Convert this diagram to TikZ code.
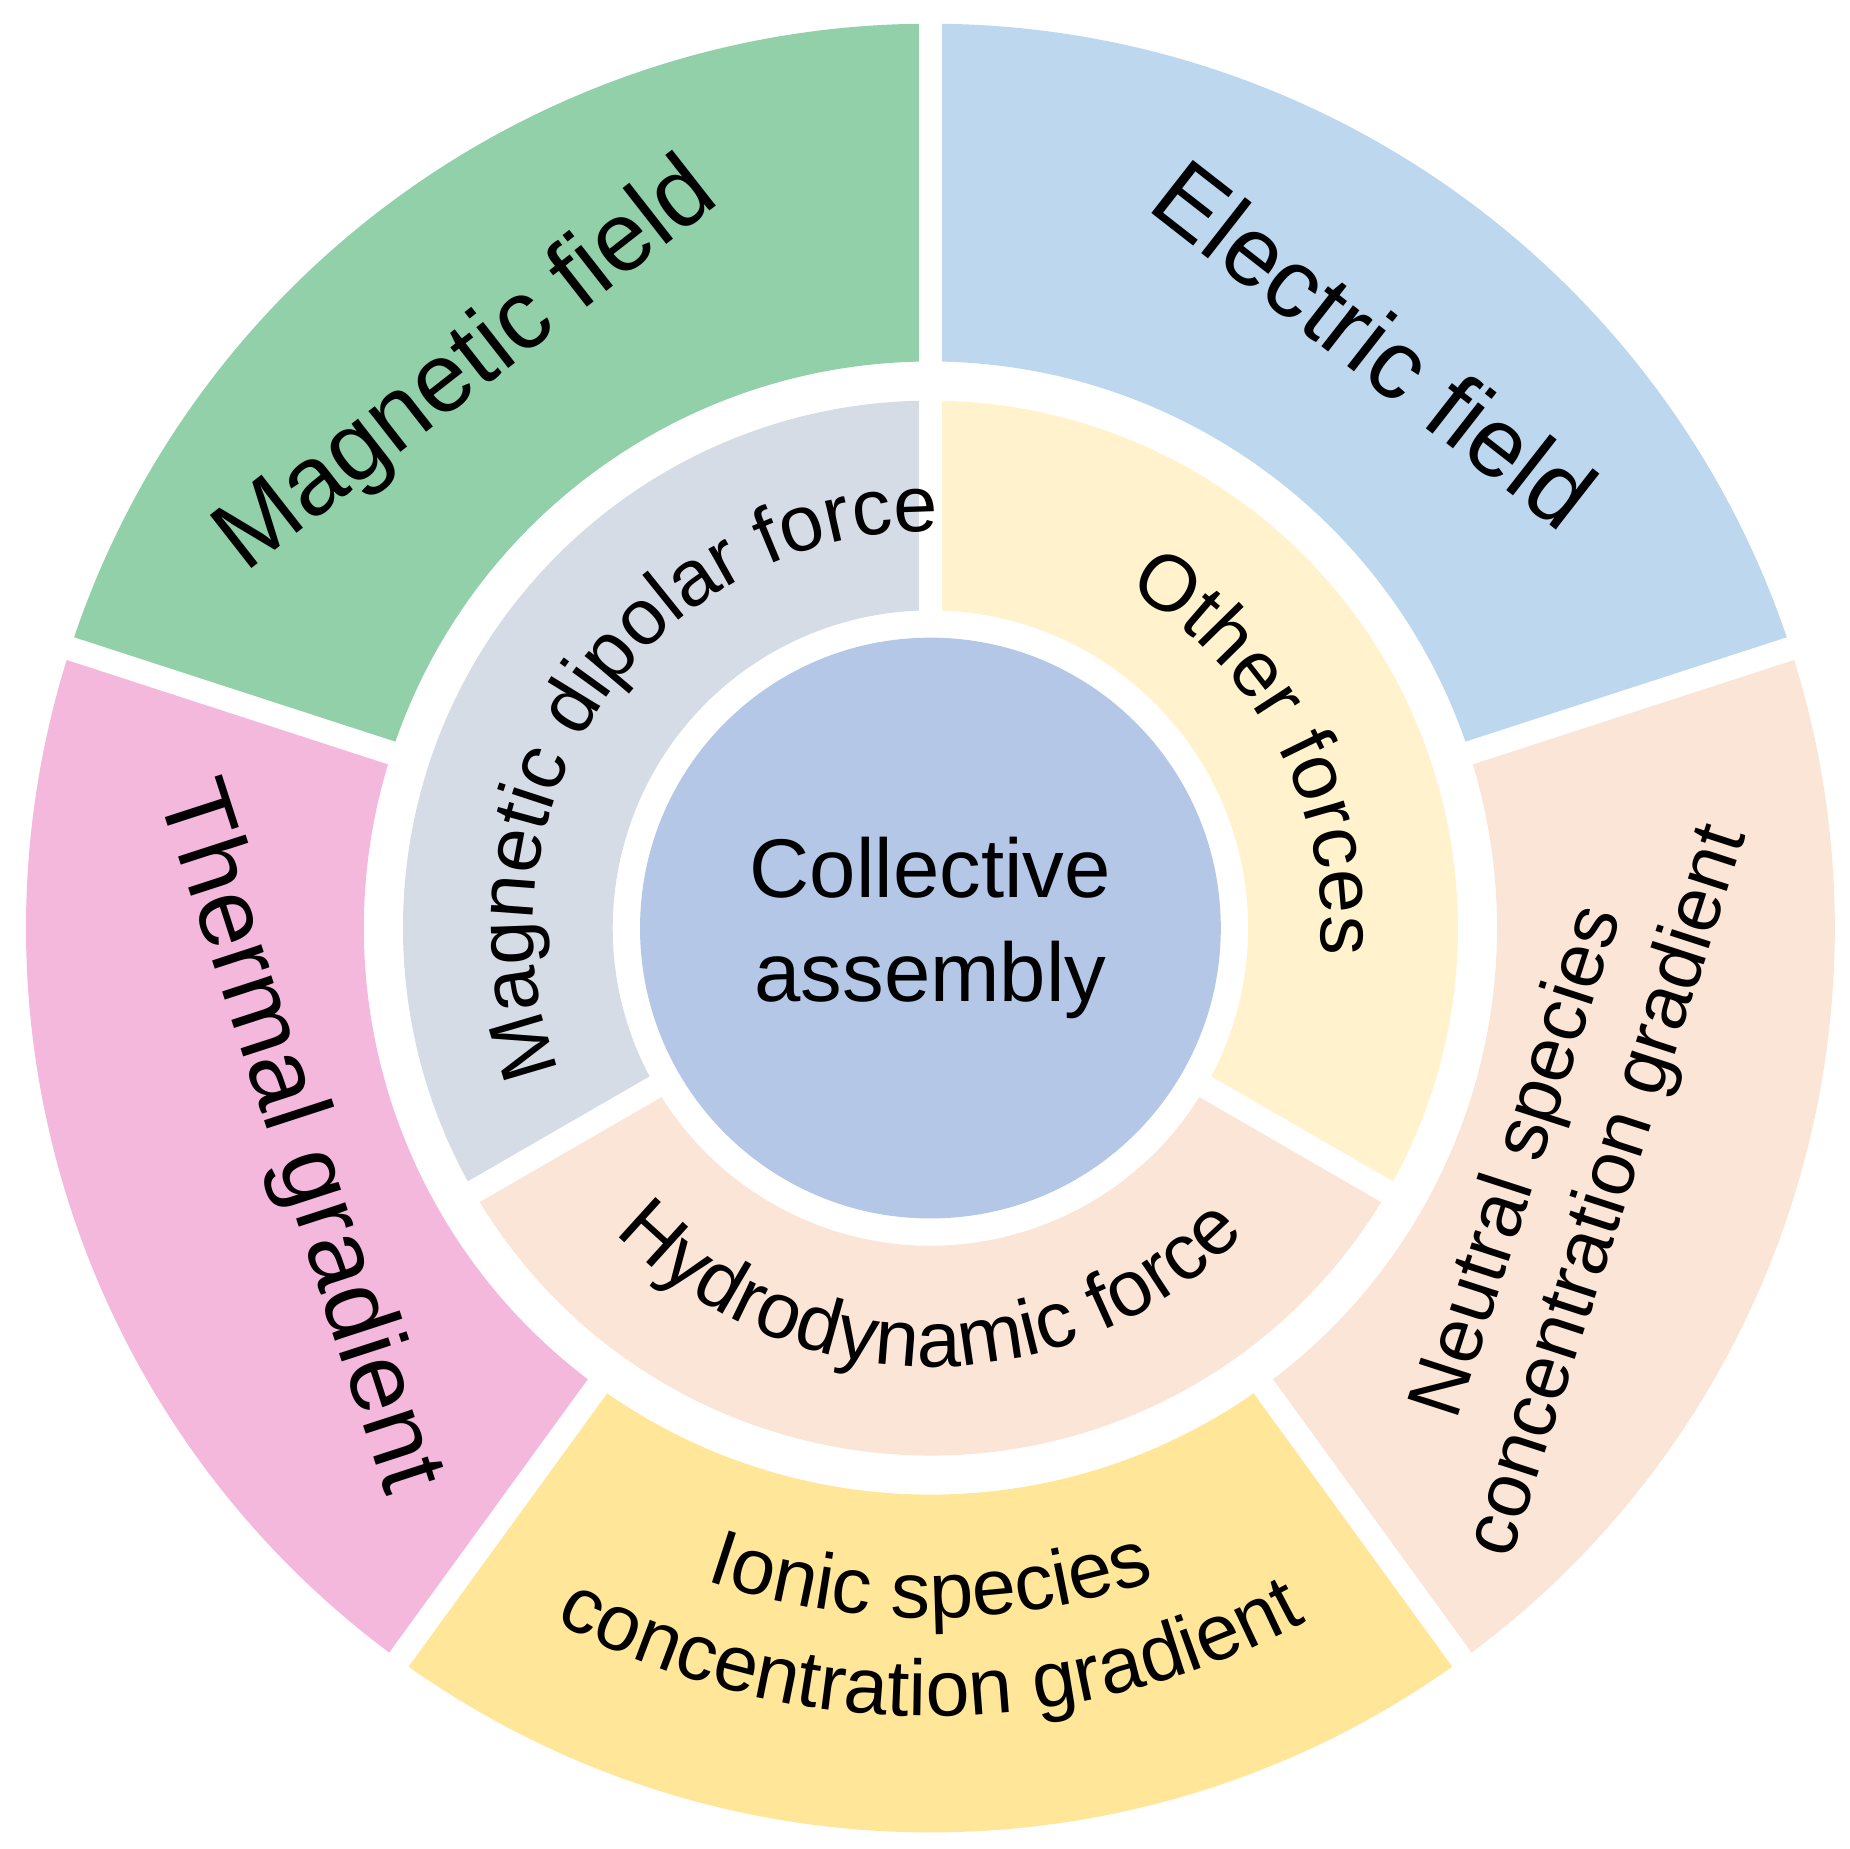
\documentclass[tikz,border=0pt]{standalone}
\usepackage{fontspec}
\setmainfont{Liberation Sans}
\usetikzlibrary{decorations.text}
\definecolor{cMag}{HTML}{92D0AA}
\definecolor{cEle}{HTML}{BDD7EE}
\definecolor{cThe}{HTML}{F4B8DC}
\definecolor{cIon}{HTML}{FFE699}
\definecolor{cNeu}{HTML}{FBE5D6}
\definecolor{cDip}{HTML}{D6DCE5}
\definecolor{cOth}{HTML}{FFF2CC}
\definecolor{cHyd}{HTML}{FBE5D6}
\definecolor{cCen}{HTML}{B4C7E7}
\begin{document}
\begin{tikzpicture}[
  big/.style={font=\fontsize{47}{53}\selectfont, align=center},
  med/.style={font=\fontsize{37}{45}\selectfont, align=center},
  gap/.style={white, line width=0.4cm}]
\useasboundingbox (-15.7,-15.54) rectangle (15.5,15.66);
\newcommand{\sect}[5]{\fill[#1] (#2:#4) arc[start angle=#2,end angle=#3,radius=#4] -- (#3:#5) arc[start angle=#3,end angle=#2,radius=#5] -- cycle;}
% outer ring
\sect{cEle}{18}{90}{15.26}{9.56}
\sect{cMag}{90}{162}{15.26}{9.56}
\sect{cThe}{162}{234}{15.26}{9.56}
\sect{cIon}{234}{306}{15.26}{9.56}
\sect{cNeu}{306}{378}{15.26}{9.56}
\foreach \a in {18,90,162,234,306} \draw[gap] (\a:9.3) -- (\a:15.5);
% middle ring
\sect{cOth}{-30}{90}{8.9}{5.36}
\sect{cDip}{90}{210}{8.9}{5.36}
\sect{cHyd}{210}{330}{8.9}{5.36}
\foreach \a in {90,210,330} \draw[gap] (\a:5.2) -- (\a:9.1);
% centre
\node[circle, fill=cCen, minimum size=9.8cm, inner sep=0pt, align=center,
  font=\fontsize{40}{50}\selectfont] (center) at (0,0) {Collective\\assembly};
% outer labels
\node[big, rotate=38] (mag) at (-7.8,9.46) {Magnetic field};
\node[big, rotate=-38] (ele) at (7.5,9.86) {Electric field};
\node[big, rotate=-72] (the) at (-10.7,-3.54) {Thermal gradient};
\node[med, rotate=72] (neu) at (10.7,-4.2) {Neutral species\\concentration gradient};
\path[decorate, decoration={text along path, text align=center,
  text={|\fontsize{38}{46}\selectfont|Ionic species}}]
  (235:11.64) arc[start angle=235,end angle=305,radius=11.64];
\path[decorate, decoration={text along path, text align=center,
  text={|\fontsize{38}{46}\selectfont|concentration gradient}}]
  (235:13.3) arc[start angle=235,end angle=305,radius=13.3];
% middle labels
\path[decorate, decoration={text along path, text align=center,
  text={|\fontsize{38}{46}\selectfont|Hydrodynamic force}}]
  (200:7.4) arc[start angle=200,end angle=340,radius=7.4];
\path[decorate, decoration={text along path, text align=center,
  text={|\fontsize{38}{46}\selectfont|Magnetic dipolar force}}]
  (205:6.7) arc[start angle=205,end angle=85,radius=6.7];
\path[decorate, decoration={text along path, text align=center,
  text={|\fontsize{38}{46}\selectfont|Other forces}}]
  (88:6.6) arc[start angle=88,end angle=-32,radius=6.6];
\end{tikzpicture}
\end{document}
